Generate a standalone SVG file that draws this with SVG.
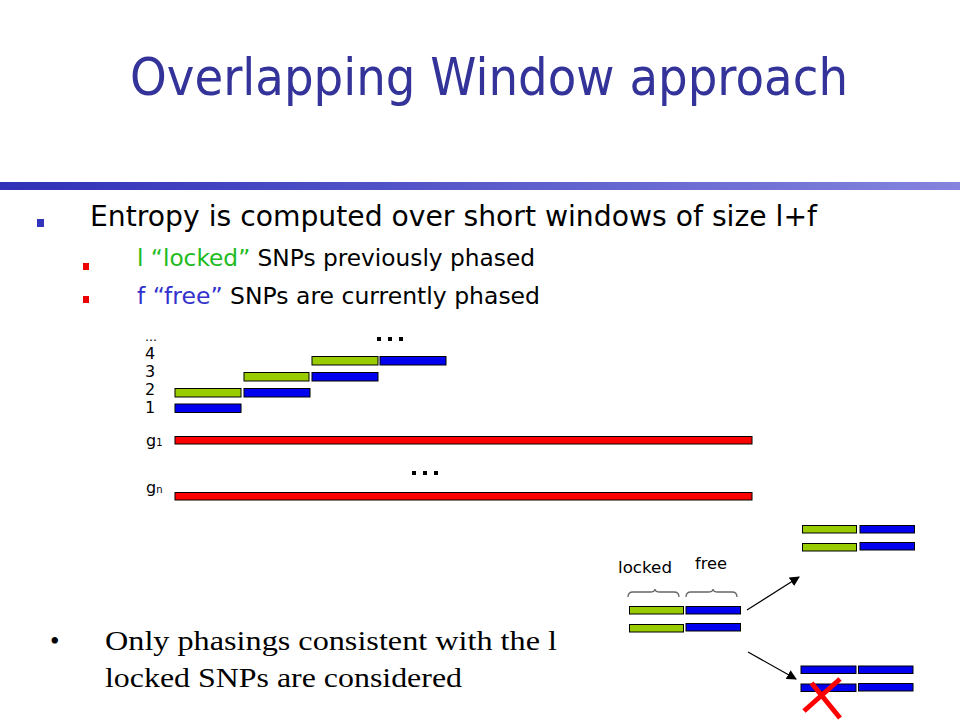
<svg xmlns="http://www.w3.org/2000/svg" width="960" height="720" viewBox="0 0 960 720">
<defs>
<linearGradient id="hbar" x1="0" y1="0" x2="1" y2="0">
<stop offset="0" stop-color="#3030b8"/>
<stop offset="1" stop-color="#8484de"/>
</linearGradient>
<marker id="arr" viewBox="0 0 10 10" refX="9" refY="5" markerWidth="10" markerHeight="10" markerUnits="userSpaceOnUse" orient="auto">
<path d="M0,0 L10,5 L0,10 z" fill="#000"/>
</marker>
<style>
.t{font-family:"DejaVu Sans","Liberation Sans",sans-serif;}
.s{font-family:"Liberation Serif","Times New Roman",serif;}
.g{fill:#99cc00;stroke:#000;stroke-width:1;}
.b{fill:#0000ee;stroke:#000;stroke-width:1;}
.r{fill:#ff0000;stroke:#000;stroke-width:1;}
.br{fill:none;stroke:#666;stroke-width:1.3;}
.ln{stroke:#000;stroke-width:1.2;fill:none;}
.x{stroke:#ff0000;stroke-width:5;}
</style>
</defs>
<rect width="960" height="720" fill="#fff"/>
<g id="title">
<text class="t" x="130" y="95" font-size="52" fill="#333399" textLength="718" lengthAdjust="spacingAndGlyphs">Overlapping Window approach</text>
</g>
<rect id="header-bar" x="0" y="182" width="960" height="8" fill="url(#hbar)"/>
<g id="bullets">
<rect x="37" y="219" width="7" height="8" fill="#3333bb"/>
<text class="t" x="90" y="226" font-size="28" fill="#000" textLength="727" lengthAdjust="spacingAndGlyphs">Entropy is computed over short windows of size l+f</text>
<rect x="83" y="263" width="6" height="7" fill="#ee0000"/>
<text class="t" x="137" y="266" font-size="23" fill="#000" textLength="398" lengthAdjust="spacingAndGlyphs"><tspan fill="#22bb22">l “locked”</tspan> SNPs previously phased</text>
<rect x="83" y="296" width="6" height="7" fill="#ee0000"/>
<text class="t" x="137" y="304" font-size="23" fill="#000" textLength="403" lengthAdjust="spacingAndGlyphs"><tspan fill="#3333cc">f “free”</tspan> SNPs are currently phased</text>
</g>
<g id="window-diagram">
<text class="t" x="145" y="341" font-size="12" fill="#000">…</text>
<text class="t" x="145" y="359" font-size="16" fill="#000">4</text>
<text class="t" x="145" y="377" font-size="16" fill="#000">3</text>
<text class="t" x="145" y="395" font-size="16" fill="#000">2</text>
<text class="t" x="145" y="413" font-size="16" fill="#000">1</text>
<rect class="b" x="175" y="404" width="66" height="8.5"/>
<rect class="g" x="175" y="388.5" width="66" height="8.5"/>
<rect class="b" x="244" y="388.5" width="66" height="8.5"/>
<rect class="g" x="244" y="372.5" width="65" height="8.5"/>
<rect class="b" x="312" y="372.5" width="66" height="8.5"/>
<rect class="g" x="312" y="356.5" width="66" height="8.5"/>
<rect class="b" x="380" y="356.5" width="66" height="8.5"/>
<g fill="#000">
<rect x="377" y="337" width="4" height="4"/><rect x="388" y="337" width="4" height="4"/><rect x="399" y="337" width="4" height="4"/>
</g>
<text class="t" x="146" y="446" font-size="16" fill="#000">g<tspan font-size="10">1</tspan></text>
<rect class="r" x="175" y="436.5" width="577" height="7.5"/>
<g fill="#000">
<rect x="412" y="471" width="4" height="4"/><rect x="423" y="471" width="4" height="4"/><rect x="434" y="471" width="4" height="4"/>
</g>
<text class="t" x="146" y="493" font-size="16" fill="#000">g<tspan font-size="10">n</tspan></text>
<rect class="r" x="175" y="492.5" width="577" height="7.5"/>
</g>
<g id="candidates">
<text class="t" x="618" y="573" font-size="15" fill="#000" textLength="54" lengthAdjust="spacingAndGlyphs">locked</text>
<text class="t" x="695" y="569" font-size="15" fill="#000" textLength="32" lengthAdjust="spacingAndGlyphs">free</text>
<path class="br" d="M628,597 Q628,592 633,592 L650,592 Q655,592 655,589 Q655,592 660,592 L674,592 Q679,592 679,597"/>
<path class="br" d="M686,597 Q686,592 691,592 L708,592 Q713,592 713,589 Q713,592 718,592 L732,592 Q737,592 737,597"/>
<rect class="g" x="629.5" y="606.5" width="54" height="7.5"/>
<rect class="b" x="686" y="606.5" width="54.5" height="7.5"/>
<rect class="g" x="629.5" y="624.5" width="54" height="7.5"/>
<rect class="b" x="686" y="623.5" width="54.5" height="7.5"/>
</g>
<g id="accepted">
<rect class="g" x="802.5" y="525.5" width="54" height="7.5"/>
<rect class="b" x="860" y="525.5" width="54.5" height="7.5"/>
<rect class="g" x="802.5" y="543.5" width="54" height="7.5"/>
<rect class="b" x="860" y="542.5" width="54.5" height="7.5"/>
</g>
<g id="rejected">
<rect class="b" x="801" y="666" width="55" height="7.5"/>
<rect class="b" x="858.5" y="666" width="54.5" height="7.5"/>
<rect class="b" x="801" y="684" width="55" height="7.5"/>
<rect class="b" x="858.5" y="683.5" width="54.5" height="7.5"/>
<line class="x" x1="840" y1="679" x2="804" y2="711"/>
<line class="x" x1="811.5" y1="683" x2="840" y2="718"/>
</g>
<g id="connectors">
<line class="ln" x1="747" y1="610" x2="799" y2="577" marker-end="url(#arr)"/>
<line class="ln" x1="748" y1="652" x2="796" y2="679" marker-end="url(#arr)"/>
</g>
<g id="note">
<text class="s" x="50" y="650" font-size="27" fill="#000">•</text>
<text class="s" x="105" y="650" font-size="27" fill="#000" textLength="452" lengthAdjust="spacingAndGlyphs">Only phasings consistent  with the l</text>
<text class="s" x="105" y="687" font-size="27" fill="#000" textLength="357" lengthAdjust="spacingAndGlyphs">locked SNPs are considered</text>
</g>
</svg>
